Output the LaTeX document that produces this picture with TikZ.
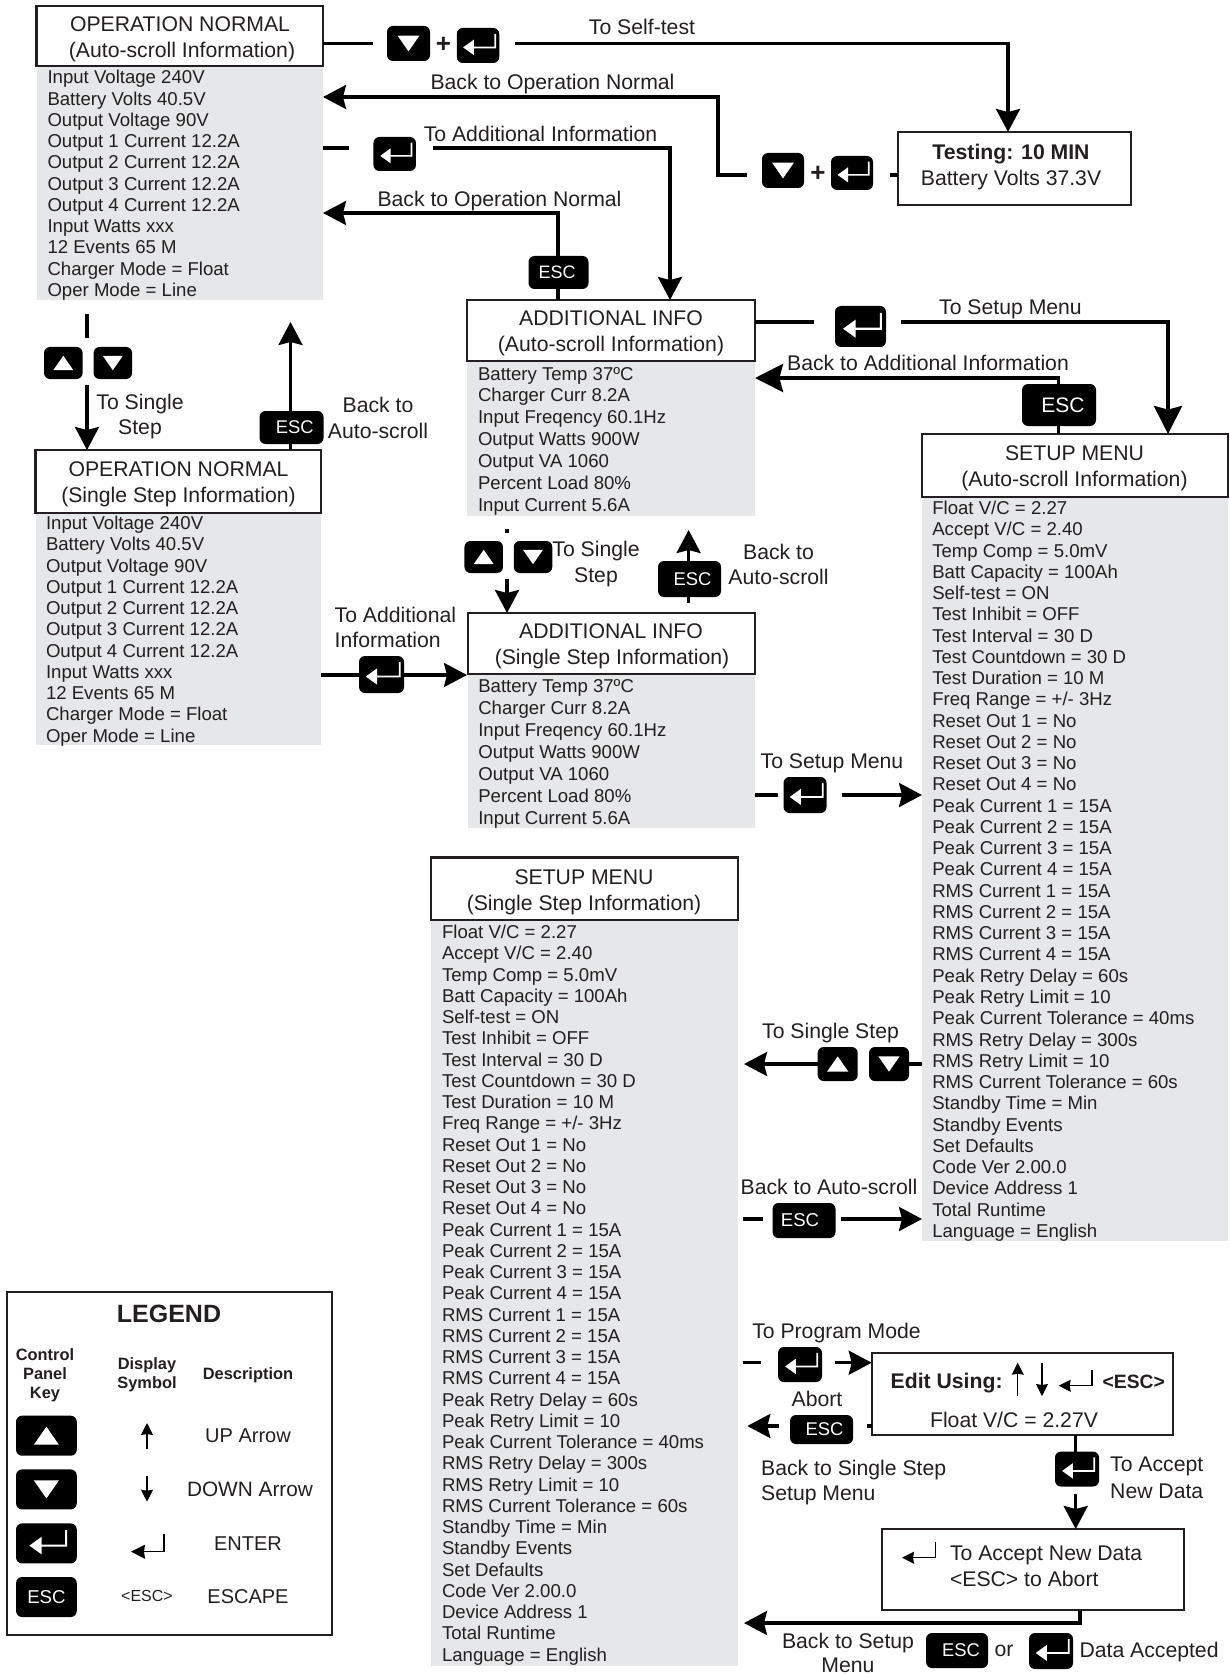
\documentclass[tikz,border=0pt]{standalone}
\usepackage{fontspec}
\setmainfont{Liberation Sans}
\usetikzlibrary{arrows.meta}
\definecolor{tx}{HTML}{231F20}
\definecolor{panelgray}{HTML}{E6E7E8}
\newcommand{\fsbody}{\fontsize{9.3}{10}\selectfont}
\newcommand{\fslabel}{\fontsize{10.6}{11}\selectfont}
\tikzset{
  conn/.style={line width=1.6pt,draw=black,line cap=butt,line join=miter},
  arr/.style={conn,-{Stealth[length=11.5pt,width=12pt,inset=1.5pt]}},
  arrbig/.style={conn,line width=1.9pt,-{Stealth[length=14pt,width=14pt,inset=1.8pt]}},
  thinsym/.style={line width=0.55pt,draw=black,-{Stealth[length=6pt,width=6pt,inset=0.5pt]}},
  lab/.style={inner sep=0pt,outer sep=0pt,text=tx,font=\fslabel},
  bod/.style={inner sep=0pt,outer sep=0pt,text=tx,font=\fsbody},
  keybase/.style={fill=black,draw=none,rounded corners=3pt,inner sep=0pt,outer sep=0pt},
  framebox/.style={draw=tx,fill=white,inner sep=0pt,outer sep=0pt},
  panel/.style={fill=panelgray,draw=none,inner sep=0pt,outer sep=0pt}
}
% label: name, anchor, x, y, text
\newcommand{\lbl}[5]{\node[lab,anchor=#2] (#1) at (#3,#4) {#5};}
% box: name, x1, y1, x2, y2, line width
\newcommand{\boxat}[6]{\node[framebox,line width=#6,minimum width={(#4-#2)*0.5pt},minimum height={(#5-#3)*0.5pt}] (#1) at ({(#2+#4)/2},{(#3+#5)/2}) {};}
\newcommand{\panelat}[5]{\node[panel,minimum width={(#4-#2)*0.5pt},minimum height={(#5-#3)*0.5pt}] (#1) at ({(#2+#4)/2},{(#3+#5)/2}) {};}
% list: name, x, first baseline, spacing, list macro
\newcommand{\listat}[5]{\foreach \t [count=\i] in #5 {\node[bod,anchor=base west] (#1\i) at (#2,{#3+#4*(\i-1)}) {\t};}}
% keys: name, cx, cy, w, h
\newcommand{\keybody}[6]{\node[keybase,minimum width={#4*0.5pt},minimum height={#5*0.5pt}] (#1) at (#2,#3) {#6};}
\newcommand{\upkey}[5]{\keybody{#1}{#2}{#3}{#4}{#5}{}
  \begin{scope}[shift={(#1.center)},scale={#5/40}]\fill[white] (-12.5,9) -- (12.5,9) -- (0,-9) -- cycle;\end{scope}}
\newcommand{\downkey}[5]{\keybody{#1}{#2}{#3}{#4}{#5}{}
  \begin{scope}[shift={(#1.center)},scale={#5/40}]\fill[white] (-12.5,-9) -- (12.5,-9) -- (0,9) -- cycle;\end{scope}}
\newcommand{\enterkey}[5]{\keybody{#1}{#2}{#3}{#4}{#5}{}
  \begin{scope}[shift={(#1.center)},scale={#5/40}]
  \fill[white] (-17,2.2) -- (-4.7,-6.7) -- (-4.7,1.2) -- (18.8,1.2) -- (18.8,-13.3) -- (20.8,-13.3) -- (20.8,3.2) -- (-4.7,3.2) -- (-4.7,11) -- cycle;
  \end{scope}}
% esc key: name, cx, cy, w, h, font size, text offset
\newcommand{\esckey}[7]{\keybody{#1}{#2}{#3}{#4}{#5}{\hspace*{#7pt}\textcolor{white}{\fontsize{#6}{#6}\selectfont ESC}}}
\def\listON{Input Voltage 240V,Battery Volts 40.5V,Output Voltage 90V,Output 1 Current 12.2A,Output 2 Current 12.2A,Output 3 Current 12.2A,Output 4 Current 12.2A,Input Watts xxx,12 Events 65 M,Charger Mode = Float,Oper Mode = Line}
\def\listAI{Battery Temp 37ºC,Charger Curr 8.2A,Input Freqency 60.1Hz,Output Watts 900W,Output VA 1060,Percent Load 80\%,Input Current 5.6A}
\def\listSM{Float V/C = 2.27,Accept V/C = 2.40,Temp Comp = 5.0mV,Batt Capacity = 100Ah,Self-test = ON,Test Inhibit = OFF,Test Interval = 30 D,Test Countdown = 30 D,Test Duration = 10 M,Freq Range = +/- 3Hz,Reset Out 1 = No,Reset Out 2 = No,Reset Out 3 = No,Reset Out 4 = No,Peak Current 1 = 15A,Peak Current 2 = 15A,Peak Current 3 = 15A,Peak Current 4 = 15A,RMS Current 1 = 15A,RMS Current 2 = 15A,RMS Current 3 = 15A,RMS Current 4 = 15A,Peak Retry Delay = 60s,Peak Retry Limit = 10,Peak Current Tolerance = 40ms,RMS Retry Delay = 300s,RMS Retry Limit = 10,RMS Current Tolerance = 60s,Standby Time = Min,Standby Events,Set Defaults,Code Ver 2.00.0,Device Address 1,Total Runtime,Language = English}
\begin{document}
\begin{tikzpicture}[x=0.5pt,y=-0.5pt]
\useasboundingbox (0,0) rectangle (1230,1674);
\fill[white] (0,0) rectangle (1230,1674);

% ---- panels and title boxes
\panelat{gA}{37}{66}{323}{300}
\boxat{tA}{36.7}{6}{323}{66}{1.3pt}
\lbl{tA1}{base}{180}{31.5}{OPERATION NORMAL}
\lbl{tA2}{base}{182}{58}{(Auto-scroll Information)}
\listat{la}{47.5}{83.8}{21.25}{\listON}

\panelat{gB}{467}{361}{755}{516}
\boxat{tB}{467}{300}{755}{361}{1.3pt}
\lbl{tB1}{base}{611}{326}{ADDITIONAL INFO}
\lbl{tB2}{base}{611}{351}{(Auto-scroll Information)}
\listat{lb}{478}{380}{21.85}{\listAI}

\panelat{gC}{36}{513}{321}{745}
\boxat{tC}{35.5}{450}{321}{513}{1.3pt}
\lbl{tC1}{base}{178.5}{476}{OPERATION NORMAL}
\lbl{tC2}{base}{178.5}{502}{(Single Step Information)}
\listat{lc}{46}{529.5}{21.25}{\listON}

\panelat{gD}{468}{674}{755}{828}
\boxat{tD}{468}{613}{755}{674}{1.3pt}
\lbl{tD1}{base}{611}{638}{ADDITIONAL INFO}
\lbl{tD2}{base}{612}{664}{(Single Step Information)}
\listat{ld}{478.3}{692}{22}{\listAI}

\panelat{gS}{922}{497}{1228}{1241}
\boxat{tS}{922}{434}{1228}{497}{1.3pt}
\lbl{tS1}{base}{1074.5}{460}{SETUP MENU}
\lbl{tS2}{base}{1074.5}{486}{(Auto-scroll Information)}
\listat{ls}{932.3}{514.5}{21.26}{\listSM}

\panelat{gE}{431}{920}{738}{1666}
\boxat{tE}{431}{857.5}{738}{920}{1.3pt}
\lbl{tE1}{base}{584}{884}{SETUP MENU}
\lbl{tE2}{base}{584}{910}{(Single Step Information)}
\listat{le}{442}{938.7}{21.25}{\listSM}

% ---- self-test
\boxat{tT}{898}{132}{1131}{205}{1pt}
\node[lab,anchor=base,font=\fslabel\bfseries] (tT1) at (1011,159.5) {Testing: 10 MIN};
\lbl{tT2}{base}{1011}{185.5}{Battery Volts 37.3V}

\coordinate (c1) at (373,43.5);
\coordinate (c2) at (515,43.5);
\coordinate (c2a) at (1008,43.5);
\downkey{k1}{408.5}{43.5}{43}{35}
\node[lab,anchor=center,font=\fontsize{13}{13}\selectfont\bfseries] (p1) at (443.5,45) {+};
\enterkey{k2}{478}{45.5}{42.5}{35}
\draw[conn] (tA.east |- c1) -- (c1);
\draw[arr] (c2) -- (c2a) -- (c2a |- tT.north);
\lbl{l1}{base}{642}{35}{To Self-test}

\coordinate (c3) at (747,175);
\coordinate (c3a) at (718,175);
\coordinate (c3b) at (718,97);
\coordinate (c5) at (890,175);
\downkey{k3}{783}{170.5}{42}{35}
\node[lab,anchor=center,font=\fontsize{13}{13}\selectfont\bfseries] (p2) at (818,173.5) {+};
\enterkey{k4}{852}{173}{42}{34}
\draw[arr] (c3) -- (c3a) -- (c3b) -- (gA.east |- c3b);
\draw[conn] (tT.west |- c5) -- (c5);
\lbl{l2}{base}{552.5}{90}{Back to Operation Normal}

% ---- to additional information
\coordinate (c6) at (349,148);
\coordinate (c7) at (433,148);
\coordinate (c7a) at (670,148);
\enterkey{k5}{394.7}{154}{42.5}{34}
\draw[conn] (gA.east |- c6) -- (c6);
\draw[arr] (c7) -- (c7a) -- (c7a |- tB.north);
\lbl{l3}{base}{540.5}{142}{To Additional Information}

\coordinate (c8) at (558,213);
\esckey{k6}{558.5}{272.5}{60}{33}{9}{-1.5}
\draw[arr] (c8 |- k6.north) -- (c8) -- (gA.east |- c8);
\draw[conn] (c8 |- k6.south) -- (c8 |- tB.north);
\lbl{l4}{base}{499.5}{207}{Back to Operation Normal}

% ---- additional to setup
\coordinate (c9) at (814,322);
\coordinate (c10) at (901,322);
\coordinate (c10a) at (1168,322);
\enterkey{k7}{860.5}{326.5}{51}{41}
\draw[line width=1.8pt] (tB.east |- c9) -- (c9);
\draw[arrbig] (c10) -- (c10a) -- (c10a |- tS.north);
\lbl{l5}{base}{1010.5}{315}{To Setup Menu}

\coordinate (c11) at (1058.5,378);
\esckey{k8}{1059}{405}{74}{42}{10.5}{4}
\draw[arrbig] (c11 |- k8.north) -- (c11) -- (gB.east |- c11);
\draw[line width=1.8pt] (c11 |- k8.south) -- (c11 |- tS.north);
\lbl{l6}{base}{928}{371}{Back to Additional Information}

% ---- on auto to single step
\coordinate (c13) at (87,314);
\coordinate (c14) at (87,338);
\coordinate (c15) at (87,385);
\draw[conn] (c13) -- (c14);
\upkey{k9}{63.3}{363}{38.6}{32}
\downkey{k10}{112.8}{363}{38.6}{32}
\draw[arr] (c15) -- (c15 |- tC.north);
\lbl{l7}{base}{140}{409}{To Single}
\lbl{l8}{base}{140}{434}{Step}

\coordinate (c16) at (290.5,322);
\esckey{k11}{291.5}{427.5}{64}{33}{9.2}{3.2}
\draw[arr] (c16 |- k11.north) -- (c16);
\draw[conn] (c16 |- k11.south) -- (c16 |- tC.north);
\lbl{l9}{base}{378}{412}{Back to}
\lbl{l10}{base}{378}{438}{Auto-scroll}

% ---- single step on to additional
\coordinate (c18) at (467,675);
\draw[arr] (gC.east |- c18) -- (c18);
\enterkey{k12}{381.5}{674.5}{45}{37}
\lbl{l11}{base west}{334.7}{622}{To Additional}
\lbl{l12}{base west}{334.7}{647}{Information}

\coordinate (c19) at (507,529);
\coordinate (c20) at (507,533);
\coordinate (c21) at (507,579);
\draw[line width=1.9pt] (c19) -- (c20);
\upkey{k13}{483.7}{557}{38.5}{32}
\downkey{k14}{533}{557}{38.5}{32}
\draw[arr] (c21) -- (c21 |- tD.north);
\lbl{l13}{base}{596}{556}{To Single}
\lbl{l14}{base}{596}{582}{Step}

\coordinate (c22) at (688.6,530);
\coordinate (c23) at (688.6,603);
\esckey{k15}{689.5}{579}{63}{36}{9.2}{3}
\draw[arr] (c22 |- k15.north) -- (c22);
\draw[conn] (c23 |- k15.south) -- (c23);
\lbl{l15}{base}{778.5}{559}{Back to}
\lbl{l16}{base}{778.5}{584}{Auto-scroll}

\coordinate (c24) at (777.5,795);
\coordinate (c25) at (842,795);
\enterkey{k16}{805}{795}{43}{36}
\draw[conn] (gD.east |- c24) -- (c24);
\draw[arr] (c25) -- (gS.west |- c25);
\lbl{l17}{base}{832}{768}{To Setup Menu}

% ---- setup single step
\coordinate (c26) at (744,1064);
\upkey{k17}{837.7}{1064}{40}{34}
\downkey{k18}{889}{1064}{40}{34}
\draw[arr] (k17.west) -- (c26);
\draw[conn] (k18.east) -- (gS.west |- k18.east);
\lbl{l18}{base}{830.5}{1038}{To Single Step}

\coordinate (c27) at (742.7,1219);
\coordinate (c28) at (762.7,1219);
\coordinate (c29) at (841,1219);
\esckey{k19}{804}{1220.5}{63}{35}{9.3}{-4}
\draw[conn] (c27) -- (c28);
\draw[arr] (c29) -- (gS.west |- c29);
\lbl{l19}{base}{829}{1194}{Back to Auto-scroll}

% ---- program mode
\boxat{tF}{871.7}{1353}{1172.7}{1435}{0.9pt}
\node[lab,anchor=base west,font=\fslabel\bfseries] (tF1) at (890.7,1388) {Edit Using:};
\node[lab,anchor=base west,font=\fontsize{9.65}{10}\selectfont\bfseries] (tF2) at (1102.7,1388) {<ESC>};
\coordinate (s1) at (1017.7,1396);
\coordinate (s2) at (1017.7,1362.7);
\coordinate (s3) at (1042,1362.7);
\coordinate (s4) at (1042,1396);
\draw[thinsym] (s1) -- (s2);
\draw[thinsym] (s3) -- (s4);
\coordinate (s5) at (1092,1370);
\coordinate (s6) at (1092,1385.7);
\coordinate (s7) at (1058.7,1385.7);
\draw[thinsym] (s5) -- (s6) -- (s7);
\lbl{tF3}{base}{1014}{1427}{Float V/C = 2.27V}

\coordinate (c30) at (742.7,1362.7);
\coordinate (c31) at (760.7,1362.7);
\coordinate (c32) at (835,1362.7);
\enterkey{k20}{800}{1364.5}{44}{35}
\draw[conn] (c30) -- (c31);
\draw[arr] (c32) -- (tF.west |- c32);
\lbl{l20}{base}{836.5}{1338.5}{To Program Mode}
\lbl{l21}{base}{817}{1406.5}{Abort}

\coordinate (c33) at (779,1426);
\coordinate (c34) at (747.3,1426);
\coordinate (c35) at (867,1426);
\esckey{k21}{821.5}{1429.5}{63}{29}{9.2}{3}
\draw[arr] (c33) -- (c34);
\draw[conn] (c35) -- (tF.west |- c35);
\lbl{l22}{base west}{761.2}{1475}{Back to Single Step}
\lbl{l23}{base west}{761.2}{1500.7}{Setup Menu}

\coordinate (c36) at (1075.7,1494);
\enterkey{k22}{1077}{1469}{44}{35}
\boxat{tG}{882}{1529}{1184}{1610}{0.9pt}
\draw[conn] (c36 |- tF.south) -- (c36 |- k22.north);
\draw[arr] (c36) -- (c36 |- tG.north);
\lbl{l24}{base west}{1110.2}{1471}{To Accept}
\lbl{l25}{base west}{1110.2}{1498}{New Data}
\coordinate (s8) at (935.7,1541.7);
\coordinate (s9) at (935.7,1557.7);
\coordinate (s10) at (902,1557.7);
\draw[thinsym] (s8) -- (s9) -- (s10);
\lbl{tG1}{base west}{950}{1560}{To Accept New Data}
\lbl{tG2}{base west}{950}{1586.5}{<ESC> to Abort}

\coordinate (c38) at (1080,1623);
\coordinate (c39) at (744,1623);
\draw[arr] (c38 |- tG.south) -- (c38) -- (c39);
\lbl{l26}{base}{848}{1648}{Back to Setup}
\lbl{l27}{base}{848}{1672}{Menu}
\esckey{k23}{957}{1650.5}{62}{35}{9.2}{4}
\lbl{l28}{base}{1004}{1656}{or}
\enterkey{k24}{1051}{1651}{44}{36}
\lbl{l29}{base west}{1079.5}{1657}{Data Accepted}

% ---- legend
\boxat{tL}{7}{1292}{332}{1635}{0.6pt}
\node[lab,anchor=base,font=\fontsize{12.5}{13}\selectfont\bfseries] (L0) at (169,1322) {LEGEND};
\node[lab,anchor=base,font=\fontsize{8.2}{9}\selectfont\bfseries] (L1) at (45,1360) {Control};
\node[lab,anchor=base,font=\fontsize{8.2}{9}\selectfont\bfseries] (L2) at (45,1379) {Panel};
\node[lab,anchor=base,font=\fontsize{8.2}{9}\selectfont\bfseries] (L3) at (45,1398) {Key};
\node[lab,anchor=base,font=\fontsize{8.2}{9}\selectfont\bfseries] (L4) at (147,1369) {Display};
\node[lab,anchor=base,font=\fontsize{8.2}{9}\selectfont\bfseries] (L5) at (147,1388) {Symbol};
\node[lab,anchor=base,font=\fontsize{8.2}{9}\selectfont\bfseries] (L6) at (248,1379) {Description};
\upkey{k25}{46.4}{1435.7}{60.7}{40}
\downkey{k26}{46.4}{1489.4}{60.7}{40}
\enterkey{k27}{46.4}{1543.4}{60.7}{40}
\esckey{k28}{46.4}{1597}{60.7}{40}{9.3}{0}
\coordinate (u1) at (147,1449);
\coordinate (u2) at (147,1423);
\coordinate (d1) at (147,1476);
\coordinate (d2) at (147,1501.7);
\coordinate (e1) at (164,1534);
\coordinate (e2) at (164,1551.7);
\coordinate (e3) at (131,1551.7);
\draw[thinsym] (u1) -- (u2);
\draw[thinsym] (d1) -- (d2);
\draw[thinsym,-{Stealth[length=7pt,width=7pt,inset=0.5pt]}] (e1) -- (e2) -- (e3);
\node[lab,anchor=base,font=\fontsize{8}{9}\selectfont] (L7) at (147,1601.7) {<ESC>};
\node[lab,anchor=base,font=\fontsize{10}{11}\selectfont] (L8) at (248,1442) {UP Arrow};
\node[lab,anchor=base,font=\fontsize{10.4}{11}\selectfont] (L9) at (250,1496) {DOWN Arrow};
\node[lab,anchor=base,font=\fontsize{10}{11}\selectfont] (L10) at (248,1550) {ENTER};
\node[lab,anchor=base,font=\fontsize{10}{11}\selectfont] (L11) at (248,1603) {ESCAPE};
\end{tikzpicture}
\end{document}
